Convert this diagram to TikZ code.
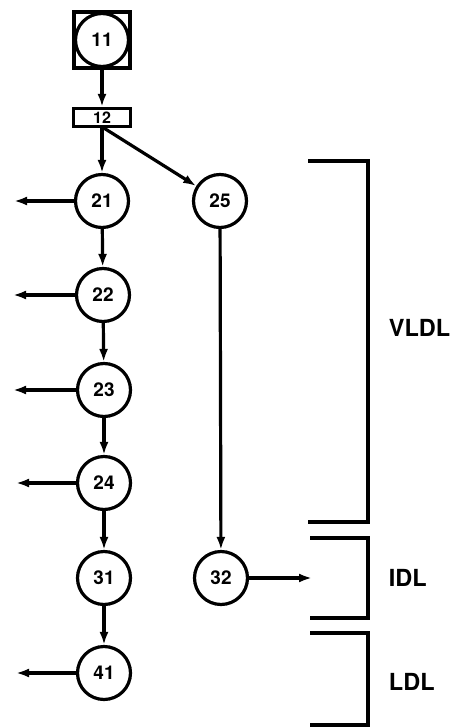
\documentclass[tikz,border=0pt]{standalone}
\usepackage{fontspec}
\setmainfont{TeX Gyre Heros}
\usetikzlibrary{arrows.meta}

\begin{document}
\begin{tikzpicture}[x=1pt,y=-1pt,line width=3.2pt,
  every node/.style={font=\fontsize{19}{19}\selectfont\bfseries},
  stage/.style={draw,circle,minimum size=53pt,inner sep=0pt},
  arr/.style={-{Latex[length=13pt,width=9pt]}},
  tag/.style={font=\fontsize{23.5}{24}\selectfont\bfseries,anchor=west}]
  \useasboundingbox (0,0) rectangle (453,728);
  % top of the chain
  \node[draw,line width=3.6pt,minimum size=56.5pt,inner sep=0pt] (s11) at (102,40) {};
  \node[stage] (n11) at (102,40) {11};
  \node[draw,minimum width=57pt,minimum height=18pt,inner sep=0pt,
        font=\fontsize{16}{16}\selectfont\bfseries] (n12) at (102,117.5) {12};
  % left column
  \node[stage] (n21) at (102,201) {21};
  \node[stage] (n22) at (103,295) {22};
  \node[stage] (n23) at (104,390) {23};
  \node[stage] (n24) at (104,483) {24};
  \node[stage] (n31) at (104,578) {31};
  \node[stage] (n41) at (104,673) {41};
  % right column
  \node[stage] (n25) at (220,201) {25};
  \node[stage] (n32) at (221,578) {32};
  % free ends
  \coordinate (o21) at (14,201);
  \coordinate (o22) at (13,295);
  \coordinate (o23) at (13,390);
  \coordinate (o24) at (16,483);
  \coordinate (o41) at (16,673);
  \coordinate (o32) at (312,578);
  \draw[arr] (s11) -- (n12);
  \draw[arr] (n12) -- (n21);
  \draw[arr] ([xshift=2pt]n12.south) -- (n25);
  \draw[arr] (n21) -- (n22);
  \draw[arr] (n22) -- (n23);
  \draw[arr] (n23) -- (n24);
  \draw[arr] (n24) -- (n31);
  \draw[arr] (n31) -- (n41);
  \draw[arr] (n25) -- (n32);
  \draw[arr] (n21) -- (o21);
  \draw[arr] (n22) -- (o22);
  \draw[arr] (n23) -- (o23);
  \draw[arr] (n24) -- (o24);
  \draw[arr] (n41) -- (o41);
  \draw[arr] (n32) -- (o32);
  % brackets
  \draw (308,161) -| (368,522) -- (308,522);
  \draw (310,538) -| (368,618) -- (310,618);
  \draw (310,633) -| (368,725) -- (310,725);
  \node[tag] (vldl) at (384,328) {VLDL};
  \node[tag] (idl) at (384,578) {IDL};
  \node[tag] (ldl) at (384,682) {LDL};
\end{tikzpicture}
\end{document}
